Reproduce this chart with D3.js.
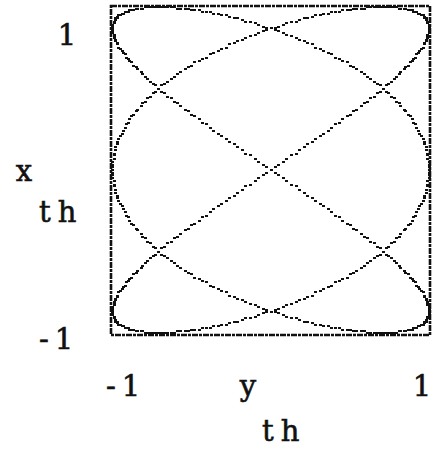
<!DOCTYPE html>
<html>
<head>
<meta charset="utf-8">
<script src="https://cdn.jsdelivr.net/npm/d3@7"></script>
<style>
  html, body { margin: 0; padding: 0; background: #fff; }
  svg { display: block; }
</style>
</head>
<body>
<svg id="chart" width="435" height="450"></svg>
<script>
// Orbit samples: horizontal coordinate y_th and vertical coordinate x_th,
// one pair per time step.
const yTh = [
0,.03,.05,.08,.1,.13,.16,.18,.21,.23,.26,.28,.31,.33,.36,.38,.41,.43,.45,.48,.5,.52,.54,.57,.59,.61,.63,.65,.67,.69,.71,.73,.74,.76,.78,.79,.81,.82,.84,.85,.87,.88,.89,.9,.91,.92,.93,.94,.95,.96,.97,.97,.98,.98,.99,.99,.99,1,1,1,1,
1,1,1,.99,.99,.99,.98,.98,.97,.97,.96,.95,.94,.93,.92,.91,.9,.89,.88,.87,.85,.84,.82,.81,.79,.78,.76,.74,.73,.71,.69,.67,.65,.63,.61,.59,.57,.54,.52,.5,.48,.45,.43,.41,.38,.36,.33,.31,.28,.26,.23,.21,.18,.16,.13,.1,.08,.05,.03,0,
-.03,-.05,-.08,-.1,-.13,-.16,-.18,-.21,-.23,-.26,-.28,-.31,-.33,-.36,-.38,-.41,-.43,-.45,-.48,-.5,-.52,-.54,-.57,-.59,-.61,-.63,-.65,-.67,-.69,-.71,-.73,-.74,-.76,-.78,-.79,-.81,-.82,-.84,-.85,-.87,-.88,-.89,-.9,-.91,-.92,-.93,-.94,-.95,-.96,-.97,-.97,-.98,-.98,-.99,-.99,-.99,-1,-1,-1,-1,
-1,-1,-1,-.99,-.99,-.99,-.98,-.98,-.97,-.97,-.96,-.95,-.94,-.93,-.92,-.91,-.9,-.89,-.88,-.87,-.85,-.84,-.82,-.81,-.79,-.78,-.76,-.74,-.73,-.71,-.69,-.67,-.65,-.63,-.61,-.59,-.57,-.54,-.52,-.5,-.48,-.45,-.43,-.41,-.38,-.36,-.33,-.31,-.28,-.26,-.23,-.21,-.18,-.16,-.13,-.1,-.08,-.05,-.03,
0,.03,.05,.08,.1,.13,.16,.18,.21,.23,.26,.28,.31,.33,.36,.38,.41,.43,.45,.48,.5,.52,.54,.57,.59,.61,.63,.65,.67,.69,.71,.73,.74,.76,.78,.79,.81,.82,.84,.85,.87,.88,.89,.9,.91,.92,.93,.94,.95,.96,.97,.97,.98,.98,.99,.99,.99,1,1,1,1,
1,1,1,.99,.99,.99,.98,.98,.97,.97,.96,.95,.94,.93,.92,.91,.9,.89,.88,.87,.85,.84,.82,.81,.79,.78,.76,.74,.73,.71,.69,.67,.65,.63,.61,.59,.57,.54,.52,.5,.48,.45,.43,.41,.38,.36,.33,.31,.28,.26,.23,.21,.18,.16,.13,.1,.08,.05,.03,0,
-.03,-.05,-.08,-.1,-.13,-.16,-.18,-.21,-.23,-.26,-.28,-.31,-.33,-.36,-.38,-.41,-.43,-.45,-.48,-.5,-.52,-.54,-.57,-.59,-.61,-.63,-.65,-.67,-.69,-.71,-.73,-.74,-.76,-.78,-.79,-.81,-.82,-.84,-.85,-.87,-.88,-.89,-.9,-.91,-.92,-.93,-.94,-.95,-.96,-.97,-.97,-.98,-.98,-.99,-.99,-.99,-1,-1,-1,-1,
-1,-1,-1,-.99,-.99,-.99,-.98,-.98,-.97,-.97,-.96,-.95,-.94,-.93,-.92,-.91,-.9,-.89,-.88,-.87,-.85,-.84,-.82,-.81,-.79,-.78,-.76,-.74,-.73,-.71,-.69,-.67,-.65,-.63,-.61,-.59,-.57,-.54,-.52,-.5,-.48,-.45,-.43,-.41,-.38,-.36,-.33,-.31,-.28,-.26,-.23,-.21,-.18,-.16,-.13,-.1,-.08,-.05,-.03,
0,.03,.05,.08,.1,.13,.16,.18,.21,.23,.26,.28,.31,.33,.36,.38,.41,.43,.45,.48,.5,.52,.54,.57,.59,.61,.63,.65,.67,.69,.71,.73,.74,.76,.78,.79,.81,.82,.84,.85,.87,.88,.89,.9,.91,.92,.93,.94,.95,.96,.97,.97,.98,.98,.99,.99,.99,1,1,1,1,
1,1,1,.99,.99,.99,.98,.98,.97,.97,.96,.95,.94,.93,.92,.91,.9,.89,.88,.87,.85,.84,.82,.81,.79,.78,.76,.74,.73,.71,.69,.67,.65,.63,.61,.59,.57,.54,.52,.5,.48,.45,.43,.41,.38,.36,.33,.31,.28,.26,.23,.21,.18,.16,.13,.1,.08,.05,.03,0,
-.03,-.05,-.08,-.1,-.13,-.16,-.18,-.21,-.23,-.26,-.28,-.31,-.33,-.36,-.38,-.41,-.43,-.45,-.48,-.5,-.52,-.54,-.57,-.59,-.61,-.63,-.65,-.67,-.69,-.71,-.73,-.74,-.76,-.78,-.79,-.81,-.82,-.84,-.85,-.87,-.88,-.89,-.9,-.91,-.92,-.93,-.94,-.95,-.96,-.97,-.97,-.98,-.98,-.99,-.99,-.99,-1,-1,-1,-1,
-1,-1,-1,-.99,-.99,-.99,-.98,-.98,-.97,-.97,-.96,-.95,-.94,-.93,-.92,-.91,-.9,-.89,-.88,-.87,-.85,-.84,-.82,-.81,-.79,-.78,-.76,-.74,-.73,-.71,-.69,-.67,-.65,-.63,-.61,-.59,-.57,-.54,-.52,-.5,-.48,-.45,-.43,-.41,-.38,-.36,-.33,-.31,-.28,-.26,-.23,-.21,-.18,-.16,-.13,-.1,-.08,-.05,-.03
];

const xTh = [
0,.02,.03,.05,.07,.09,.1,.12,.14,.16,.17,.19,.21,.22,.24,.26,.28,.29,.31,.33,.34,.36,.37,.39,.41,.42,.44,.45,.47,.48,.5,.52,.53,.54,.56,.57,.59,.6,.62,.63,.64,.66,.67,.68,.69,.71,.72,.73,.74,.75,.77,.78,.79,.8,.81,.82,.83,.84,.85,.86,.87,.87,.88,.89,.9,.91,.91,.92,.93,.93,.94,.95,.95,.96,.96,.97,.97,.97,.98,.98,.98,.99,.99,.99,.99,1,1,1,1,1,1,
1,1,1,1,1,.99,.99,.99,.99,.98,.98,.98,.97,.97,.97,.96,.96,.95,.95,.94,.93,.93,.92,.91,.91,.9,.89,.88,.87,.87,.86,.85,.84,.83,.82,.81,.8,.79,.78,.77,.75,.74,.73,.72,.71,.69,.68,.67,.66,.64,.63,.62,.6,.59,.57,.56,.54,.53,.52,.5,.48,.47,.45,.44,.42,.41,.39,.37,.36,.34,.33,.31,.29,.28,.26,.24,.22,.21,.19,.17,.16,.14,.12,.1,.09,.07,.05,.03,.02,0,
-.02,-.03,-.05,-.07,-.09,-.1,-.12,-.14,-.16,-.17,-.19,-.21,-.22,-.24,-.26,-.28,-.29,-.31,-.33,-.34,-.36,-.37,-.39,-.41,-.42,-.44,-.45,-.47,-.48,-.5,-.52,-.53,-.54,-.56,-.57,-.59,-.6,-.62,-.63,-.64,-.66,-.67,-.68,-.69,-.71,-.72,-.73,-.74,-.75,-.77,-.78,-.79,-.8,-.81,-.82,-.83,-.84,-.85,-.86,-.87,-.87,-.88,-.89,-.9,-.91,-.91,-.92,-.93,-.93,-.94,-.95,-.95,-.96,-.96,-.97,-.97,-.97,-.98,-.98,-.98,-.99,-.99,-.99,-.99,-1,-1,-1,-1,-1,-1,
-1,-1,-1,-1,-1,-.99,-.99,-.99,-.99,-.98,-.98,-.98,-.97,-.97,-.97,-.96,-.96,-.95,-.95,-.94,-.93,-.93,-.92,-.91,-.91,-.9,-.89,-.88,-.87,-.87,-.86,-.85,-.84,-.83,-.82,-.81,-.8,-.79,-.78,-.77,-.75,-.74,-.73,-.72,-.71,-.69,-.68,-.67,-.66,-.64,-.63,-.62,-.6,-.59,-.57,-.56,-.54,-.53,-.52,-.5,-.48,-.47,-.45,-.44,-.42,-.41,-.39,-.37,-.36,-.34,-.33,-.31,-.29,-.28,-.26,-.24,-.22,-.21,-.19,-.17,-.16,-.14,-.12,-.1,-.09,-.07,-.05,-.03,-.02,
0,.02,.03,.05,.07,.09,.1,.12,.14,.16,.17,.19,.21,.22,.24,.26,.28,.29,.31,.33,.34,.36,.37,.39,.41,.42,.44,.45,.47,.48,.5,.52,.53,.54,.56,.57,.59,.6,.62,.63,.64,.66,.67,.68,.69,.71,.72,.73,.74,.75,.77,.78,.79,.8,.81,.82,.83,.84,.85,.86,.87,.87,.88,.89,.9,.91,.91,.92,.93,.93,.94,.95,.95,.96,.96,.97,.97,.97,.98,.98,.98,.99,.99,.99,.99,1,1,1,1,1,1,
1,1,1,1,1,.99,.99,.99,.99,.98,.98,.98,.97,.97,.97,.96,.96,.95,.95,.94,.93,.93,.92,.91,.91,.9,.89,.88,.87,.87,.86,.85,.84,.83,.82,.81,.8,.79,.78,.77,.75,.74,.73,.72,.71,.69,.68,.67,.66,.64,.63,.62,.6,.59,.57,.56,.54,.53,.52,.5,.48,.47,.45,.44,.42,.41,.39,.37,.36,.34,.33,.31,.29,.28,.26,.24,.22,.21,.19,.17,.16,.14,.12,.1,.09,.07,.05,.03,.02,0,
-.02,-.03,-.05,-.07,-.09,-.1,-.12,-.14,-.16,-.17,-.19,-.21,-.22,-.24,-.26,-.28,-.29,-.31,-.33,-.34,-.36,-.37,-.39,-.41,-.42,-.44,-.45,-.47,-.48,-.5,-.52,-.53,-.54,-.56,-.57,-.59,-.6,-.62,-.63,-.64,-.66,-.67,-.68,-.69,-.71,-.72,-.73,-.74,-.75,-.77,-.78,-.79,-.8,-.81,-.82,-.83,-.84,-.85,-.86,-.87,-.87,-.88,-.89,-.9,-.91,-.91,-.92,-.93,-.93,-.94,-.95,-.95,-.96,-.96,-.97,-.97,-.97,-.98,-.98,-.98,-.99,-.99,-.99,-.99,-1,-1,-1,-1,-1,-1,
-1,-1,-1,-1,-1,-.99,-.99,-.99,-.99,-.98,-.98,-.98,-.97,-.97,-.97,-.96,-.96,-.95,-.95,-.94,-.93,-.93,-.92,-.91,-.91,-.9,-.89,-.88,-.87,-.87,-.86,-.85,-.84,-.83,-.82,-.81,-.8,-.79,-.78,-.77,-.75,-.74,-.73,-.72,-.71,-.69,-.68,-.67,-.66,-.64,-.63,-.62,-.6,-.59,-.57,-.56,-.54,-.53,-.52,-.5,-.48,-.47,-.45,-.44,-.42,-.41,-.39,-.37,-.36,-.34,-.33,-.31,-.29,-.28,-.26,-.24,-.22,-.21,-.19,-.17,-.16,-.14,-.12,-.1,-.09,-.07,-.05,-.03,-.02
];

// Axis end labels and axis names (name drawn as variable + subscript line)
const tickLabels = ["-1", "1"];
const hAxisName = ["y", "th"];
const vAxisName = ["x", "th"];

const ink = "#111";
const svg = d3.select("#chart");

// Plot frame and data scales
const frame = { left: 111, top: 6, right: 430, bottom: 335 };
const xScale = d3.scaleLinear().domain([-1, 1]).range([112, 429]);
const yScale = d3.scaleLinear().domain([-1, 1]).range([333, 7]);

svg.append("rect")
  .attr("x", frame.left)
  .attr("y", frame.top)
  .attr("width", frame.right - frame.left)
  .attr("height", frame.bottom - frame.top)
  .attr("fill", "none")
  .attr("stroke", ink)
  .attr("stroke-width", 2.6)
  .attr("stroke-dasharray", "6,1,3,1");

// Orbit points as small printer dots
const n = Math.min(yTh.length, xTh.length);
const points = d3.range(n).map(i => ({ h: yTh[i], v: xTh[i] }));

svg.append("g")
  .attr("shape-rendering", "crispEdges")
  .selectAll("rect")
  .data(points)
  .join("rect")
  .attr("x", d => Math.round(xScale(d.h)) - 1)
  .attr("y", d => Math.round(yScale(d.v)) - 1)
  .attr("width", 3)
  .attr("height", 2)
  .attr("fill", ink);

// Labels
const font = "'DejaVu Serif', serif";
function label(text, x, y, anchor, spacing) {
  svg.append("text")
    .attr("x", x)
    .attr("y", y)
    .attr("text-anchor", anchor)
    .attr("font-family", font)
    .attr("font-size", 29)
    .attr("letter-spacing", spacing)
    .attr("fill", ink)
    .attr("stroke", ink)
    .attr("stroke-width", 0.6)
    .text(text);
}

// vertical axis
label(tickLabels[1], 67, 45, "middle", 0);
label(tickLabels[0], 39, 349, "start", 6);
label(vAxisName[0], 24, 181, "middle", 0);
label(vAxisName[1], 39, 222, "start", 7);

// horizontal axis
label(tickLabels[0], 106, 396, "start", 6);
label(tickLabels[1], 422, 396, "middle", 0);
label(hAxisName[0], 248, 396, "middle", 0);
label(hAxisName[1], 262, 441, "start", 7);
</script>
</body>
</html>
